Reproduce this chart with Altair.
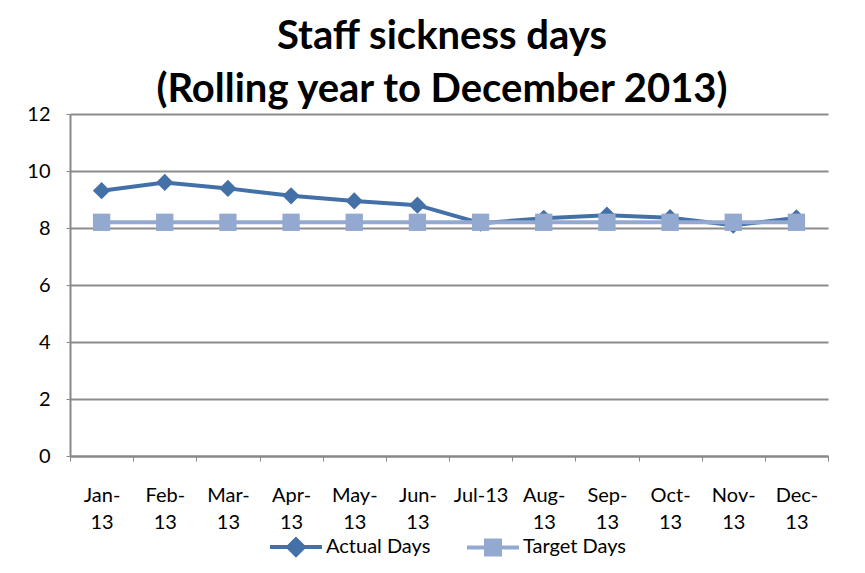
import altair as alt
import pandas as pd

months = ["Jan-13", "Feb-13", "Mar-13", "Apr-13", "May-13", "Jun-13",
          "Jul-13", "Aug-13", "Sep-13", "Oct-13", "Nov-13", "Dec-13"]
actual = [9.31, 9.6, 9.39, 9.13, 8.95, 8.8, 8.17, 8.34, 8.45, 8.36, 8.1, 8.35]
target = [8.2] * 12
series_names = ["Actual Days", "Target Days"]
colors = ["#4470A8", "#93A9D0"]

df = pd.DataFrame({
    "month": months * 2,
    "series": [series_names[0]] * 12 + [series_names[1]] * 12,
    "value": actual + target,
})

FONT = "Lato"

x = alt.X("month:N", sort=months, title=None, bandPosition=0.5,
          scale=alt.Scale(type="band", paddingInner=0, paddingOuter=0),
          axis=alt.Axis(
              labelAngle=0, labelFontSize=20, labelColor="#000", labelFont=FONT,
              labelPadding=24, labelLineHeight=27, labelBaseline="top",
              tickBand="extent", tickSize=5, tickColor="#888", domainColor="#888",
              domainWidth=2, grid=False,
              labelExpr="datum.label == 'Jul-13' ? datum.label : [slice(datum.label, 0, 4), slice(datum.label, 4)]"))
y = alt.Y("value:Q", title=None,
          scale=alt.Scale(domain=[0, 12], nice=False, zero=True),
          axis=alt.Axis(values=[0, 2, 4, 6, 8, 10, 12], labelFontSize=20, labelColor="#000",
                        labelFont=FONT, labelPadding=16, tickSize=4, tickColor="#888",
                        domainColor="#888", domainWidth=2, gridColor="#8c8c8c", gridWidth=2))

layers = []
for name, col, shp in [(series_names[0], colors[0], "diamond"), (series_names[1], colors[1], "square")]:
    b = alt.Chart(df).transform_filter(alt.datum.series == name)
    layers.append(b.mark_line(strokeWidth=4, color=col).encode(x=x, y=y))
    layers.append(b.mark_point(filled=True, opacity=1, size=300, shape=shp, color=col).encode(x=x, y=y))

sym_paths = ["M-1,0L1,0M0,-0.3L0.3,0L0,0.3L-0.3,0Z",
             "M-1,0L1,0M-0.27,-0.27L0.27,-0.27L0.27,0.27L-0.27,0.27Z"]
leg = alt.Legend(title=None, orient="none", direction="horizontal", legendX=198, legendY=405,
                 labelFontSize=20, labelFont=FONT, labelColor="#000", symbolSize=2704,
                 symbolStrokeWidth=4, columnPadding=28, labelOffset=2, labelLimit=300)
legend_layer = alt.Chart(df).transform_filter("false").mark_point(opacity=1, strokeWidth=4).encode(
    color=alt.Color("series:N", scale=alt.Scale(domain=series_names, range=colors), legend=leg),
    fill=alt.Fill("series:N", scale=alt.Scale(domain=series_names, range=colors), legend=leg),
    shape=alt.Shape("series:N", scale=alt.Scale(domain=series_names, range=sym_paths), legend=leg),
)

chart = alt.layer(*layers, legend_layer).properties(
    width=758, height=342,
    title=alt.TitleParams(["Staff sickness days", "(Rolling year to December 2013)"],
                          font=FONT, fontSize=40, fontWeight="bold", color="#000",
                          lineHeight=53, anchor="middle", offset=-6, dx=-7),
    autosize=alt.AutoSizeParams(type="none"),
    padding={"left": 62, "top": 106, "right": 27, "bottom": 115},
).configure_view(stroke=None)

chart.save("out.html", embed_options={"renderer": "svg", "actions": False})
